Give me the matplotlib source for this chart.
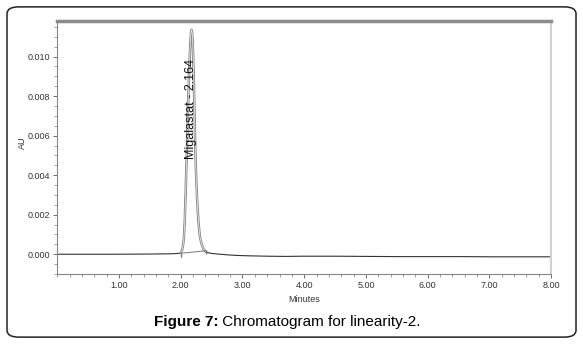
import numpy as np
import matplotlib.pyplot as plt
from matplotlib.patches import FancyBboxPatch
from matplotlib.ticker import MultipleLocator, FormatStrFormatter

# chromatogram trace (minutes, AU)
time = [0.0, 0.5, 1.0, 1.5, 1.8, 1.9, 1.95, 1.98, 2.00, 2.02, 2.035, 2.05, 2.065,
        2.077, 2.093, 2.11, 2.125, 2.14, 2.155, 2.165, 2.175, 2.185, 2.195,
        2.205, 2.215, 2.225, 2.235, 2.245, 2.26, 2.275, 2.29, 2.31, 2.33, 2.35,
        2.37, 2.40, 2.44, 2.50, 2.60, 2.75, 2.90, 3.10, 3.40, 3.70,
        4.00, 4.50, 5.00, 5.50, 6.00, 6.50, 7.00, 7.50, 8.00]
au = [0.0, 0.0, 0.0, 0.00001, 0.00002, 0.00003, 0.00004, 0.00005, 0.00008, 0.0002,
      0.0004, 0.0008, 0.0017, 0.0029, 0.0046, 0.0065, 0.0082, 0.0096, 0.0107,
      0.0112, 0.01135, 0.0112, 0.0106, 0.0096, 0.0083, 0.0068, 0.0054, 0.0043,
      0.0031, 0.0022, 0.0015, 0.0009, 0.0006, 0.0004, 0.00025, 0.00014, 0.00008,
      0.00004, 0.00001, -0.00003, -0.00006, -0.00008, -0.0001,
      -0.00011, -0.0001, -0.0001, -0.00011, -0.00012, -0.00012, -0.00012,
      -0.00013, -0.00013, -0.00013]

peak_start = 2.00
peak_end = 2.41
peak_label = "Migalastat - 2.164"

fig = plt.figure(figsize=(5.83, 3.44), dpi=100)

border = FancyBboxPatch((0.012, 0.02), 0.976, 0.96, transform=fig.transFigure,
                        boxstyle="round,pad=0,rounding_size=0.02",
                        fill=False, edgecolor="#222222", linewidth=1.1)
fig.patches.append(border)

ax = fig.add_axes([0.0983, 0.2035, 0.847, 0.7355])

t = np.array(time)
a = np.array(au)
ax.plot(t, a, color="#333333", linewidth=0.8)
m = (t >= peak_start) & (t <= peak_end)
ax.plot(t[m], a[m], color="#8a8a8a", linewidth=1.8, solid_joinstyle="round")
ax.plot(t[m], a[m], color="#f4f4f4", linewidth=0.5)

# integration baseline and its end marks
ya = np.interp(peak_start, t, a)
yb = np.interp(peak_end, t, a)
ax.plot([peak_start, peak_end], [ya - 0.00003, yb + 0.00005], color="#777777", linewidth=0.7)
ax.plot([peak_start, peak_end], [ya - 0.0001, yb - 0.00002], linestyle="none",
        marker="|", markersize=3, color="#777777")

ax.text(2.16, 0.0048, peak_label, rotation=90, ha="center", va="bottom",
        fontsize=9, family=["Liberation Sans", "DejaVu Sans"], color="#111111")

ax.set_xlim(0, 8.0)
ax.set_ylim(-0.001, 0.0118)
ax.xaxis.set_major_locator(MultipleLocator(1.0))
ax.xaxis.set_minor_locator(MultipleLocator(0.2))
ax.xaxis.set_major_formatter(FormatStrFormatter("%.2f"))
ax.yaxis.set_major_locator(MultipleLocator(0.002))
ax.yaxis.set_minor_locator(MultipleLocator(0.0005))
ax.yaxis.set_major_formatter(FormatStrFormatter("%.3f"))
ax.set_xticks([1, 2, 3, 4, 5, 6, 7, 8])

narrow = ["Liberation Sans Narrow", "Liberation Sans", "DejaVu Sans"]
for lab in ax.get_xticklabels() + ax.get_yticklabels():
    lab.set_family(narrow)
    lab.set_fontsize(6.5)
    lab.set_color("#333333")
ax.tick_params(which="major", length=3, width=0.6, color="#555555", pad=2)
ax.tick_params(which="minor", length=2, width=0.5, color="#777777")

ax.spines["top"].set_color("#8c8c8c")
ax.spines["top"].set_linewidth(2.5)
ax.spines["right"].set_color("#d0d0d0")
ax.spines["right"].set_linewidth(1.5)
ax.spines["left"].set_color("#888888")
ax.spines["left"].set_linewidth(0.8)
ax.spines["bottom"].set_color("#888888")
ax.spines["bottom"].set_linewidth(0.8)

ax.set_ylabel("AU", family=narrow, fontsize=6.5, color="#333333")
ax.yaxis.set_label_coords(-0.061, 0.52)
ax.set_xlabel("Minutes", family=narrow, fontsize=6.5, color="#333333", labelpad=4)

# caption with bold prefix
fig.canvas.draw()
r = fig.canvas.get_renderer()
bold = fig.text(0.264, 0.053, "Figure 7:", fontsize=11, fontweight="bold",
                family=["Liberation Sans", "DejaVu Sans"], va="baseline")
bb = bold.get_window_extent(renderer=r)
x2 = fig.transFigure.inverted().transform((bb.x1, bb.y0))[0]
fig.text(x2, 0.053, " Chromatogram for linearity-2.", fontsize=11,
         family=["Liberation Sans", "DejaVu Sans"], va="baseline")

fig.savefig("out.png", dpi=100)
